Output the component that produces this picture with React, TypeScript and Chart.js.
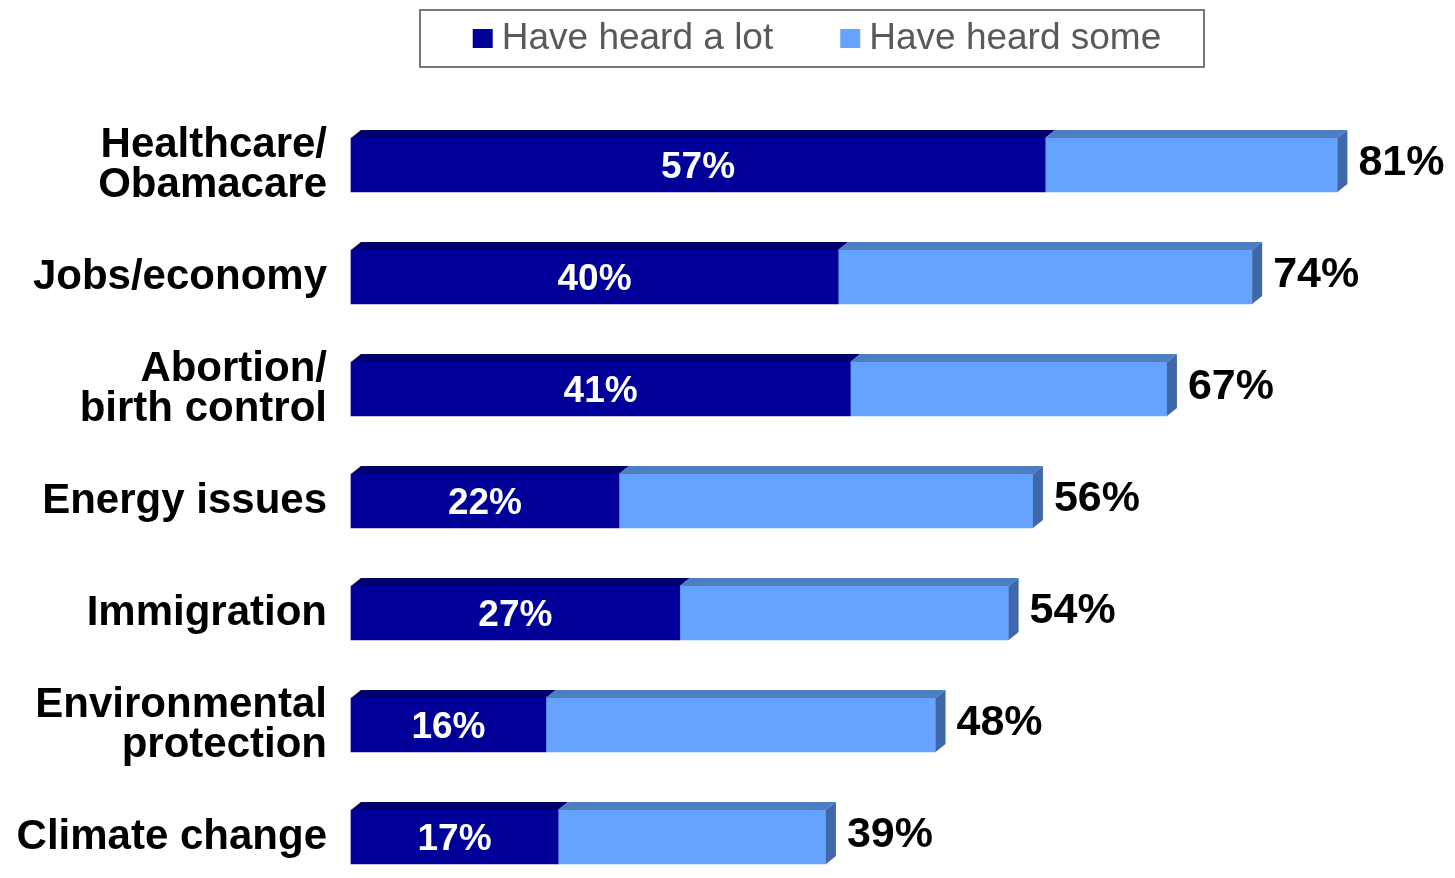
import React, { useEffect, useRef } from "react";
import { Chart, registerables } from "chart.js";

Chart.register(...registerables);

const categories: (string | string[])[] = [
  ["Healthcare/", "Obamacare"],
  "Jobs/economy",
  ["Abortion/", "birth control"],
  "Energy issues",
  "Immigration",
  ["Environmental", "protection"],
  "Climate change",
];
const seriesNames = ["Have heard a lot", "Have heard some"];
const heardALot = [57, 40, 41, 22, 27, 16, 17];
const heardSome = [24, 34, 26, 34, 27, 32, 22];
const totals = [81, 74, 67, 56, 54, 48, 39];

const FONT = "'Liberation Sans', Arial, Helvetica, sans-serif";
const FRONT = ["#000099", "#66A3FF"];
const TOP = ["#00006C", "#4C7EC2"];
const SIDE = "#3E68A8";
const DX = 10;
const DY = 8;

const threeDPlugin = {
  id: "threeD",
  afterDatasetsDraw(chart: any) {
    const ctx = chart.ctx;
    const n = chart.data.datasets.length;
    for (let di = 0; di < n; di++) {
      const meta = chart.getDatasetMeta(di);
      meta.data.forEach((bar: any) => {
        const { x, y, base, height } = bar.getProps(["x", "y", "base", "height"], true);
        const top = y - height / 2;
        const bottom = y + height / 2;
        const left = Math.min(x, base);
        const right = Math.max(x, base);
        ctx.save();
        ctx.fillStyle = TOP[di];
        ctx.beginPath();
        ctx.moveTo(left, top);
        ctx.lineTo(left + DX, top - DY);
        ctx.lineTo(right + DX, top - DY);
        ctx.lineTo(right, top);
        ctx.closePath();
        ctx.fill();
        if (di === n - 1) {
          ctx.fillStyle = SIDE;
          ctx.beginPath();
          ctx.moveTo(right, top);
          ctx.lineTo(right + DX, top - DY);
          ctx.lineTo(right + DX, bottom - DY);
          ctx.lineTo(right, bottom);
          ctx.closePath();
          ctx.fill();
        }
        ctx.restore();
      });
    }
  },
  afterDraw(chart: any) {
    const ctx = chart.ctx;
    const m0 = chart.getDatasetMeta(0);
    const m1 = chart.getDatasetMeta(1);
    ctx.save();
    m0.data.forEach((bar: any, i: number) => {
      const { x, y, base } = bar.getProps(["x", "y", "base"], true);
      ctx.font = `bold 37px ${FONT}`;
      ctx.fillStyle = "#FFFFFF";
      ctx.textAlign = "center";
      ctx.textBaseline = "alphabetic";
      ctx.fillText(`${heardALot[i]}%`, (x + base) / 2, y + 13);
    });
    m1.data.forEach((bar: any, i: number) => {
      const { x, y } = bar.getProps(["x", "y"], true);
      ctx.font = `bold 43px ${FONT}`;
      ctx.fillStyle = "#000000";
      ctx.textAlign = "left";
      ctx.textBaseline = "alphabetic";
      ctx.fillText(`${totals[i]}%`, x + DX + 11, y + 10);
    });
    // legend
    ctx.font = `37px ${FONT}`;
    const markerW = 20;
    const gapText = 9;
    const gapItems = 67;
    const widths = seriesNames.map((s) => ctx.measureText(s).width);
    const total = widths.reduce((a, w) => a + markerW + gapText + w, 0) + gapItems;
    let cx = 817 - total / 2;
    ctx.strokeStyle = "#777777";
    ctx.lineWidth = 2;
    ctx.strokeRect(420, 10, 784, 57);
    seriesNames.forEach((s, i) => {
      ctx.fillStyle = FRONT[i];
      ctx.fillRect(cx, 29, markerW, 19);
      ctx.fillStyle = "#595959";
      ctx.textAlign = "left";
      ctx.textBaseline = "alphabetic";
      ctx.fillText(s, cx + markerW + gapText, 49);
      cx += markerW + gapText + widths[i] + gapItems;
    });
    ctx.restore();
  },
};

export default function App() {
  const ref = useRef<HTMLCanvasElement | null>(null);
  useEffect(() => {
    document.body.style.margin = "0";
    const canvas = ref.current!;
    const chart = new Chart(canvas, {
      type: "bar",
      data: {
        labels: categories as any,
        datasets: [
          {
            label: seriesNames[0],
            data: heardALot,
            backgroundColor: FRONT[0],
            barThickness: 54,
            clip: false as any,
          },
          {
            label: seriesNames[1],
            data: heardSome,
            backgroundColor: FRONT[1],
            barThickness: 54,
            clip: false as any,
          },
        ],
      },
      options: {
        indexAxis: "y",
        animation: false,
        responsive: false,
        devicePixelRatio: 1,
        layout: { padding: { top: 165, bottom: 41, left: 0, right: 8 } },
        plugins: { legend: { display: false }, tooltip: { enabled: false } },
        scales: {
          x: {
            stacked: true,
            display: false,
            min: 0,
            max: 90,
          },
          y: {
            stacked: true,
            offset: false,
            grid: { display: false, drawTicks: false },
            border: { display: false },
            ticks: {
              color: "#000000",
              padding: 24,
              font: { family: FONT, size: 42, weight: "bold", lineHeight: 0.95 },
            },
            afterFit(scale: any) {
              scale.width = 351;
              scale.paddingTop = 0;
              scale.paddingBottom = 0;
            },
          },
        },
      },
      plugins: [threeDPlugin],
    });
    return () => chart.destroy();
  }, []);
  return (
    <div style={{ width: 1455, height: 878 }}>
      <canvas ref={ref} width={1455} height={878} style={{ display: "block" }} />
    </div>
  );
}
